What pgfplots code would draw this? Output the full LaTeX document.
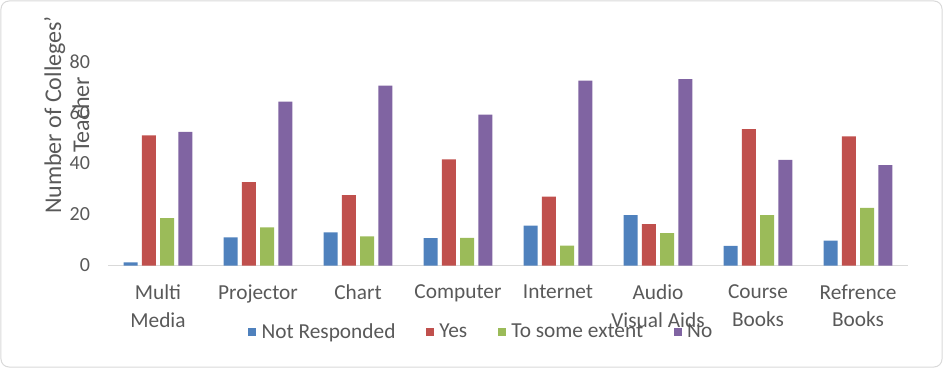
\documentclass[border=0pt]{standalone}
\usepackage{fontspec}
\setmainfont{Carlito}
\usepackage{pgfplots}
\pgfplotsset{compat=1.18}
\definecolor{nr}{HTML}{4F81BD}
\definecolor{yes}{HTML}{C0504D}
\definecolor{some}{HTML}{9BBB59}
\definecolor{no}{HTML}{8064A2}
\definecolor{txt}{HTML}{595959}
\definecolor{axl}{HTML}{D9D9D9}
\begin{document}
\begin{tikzpicture}[x=1pt,y=1pt]
\useasboundingbox (-81,-76.875) rectangle (627,199.125);
\draw[axl, line width=0.75pt, rounded corners=6pt] (-80.25,-76.125) rectangle (625.5,198.375);
\begin{axis}[
 at={(0,0)}, anchor=south west, scale only axis,
 width=600pt, height=153pt,
 xmin=-0.5, xmax=7.5, ymin=0, ymax=80,
 ybar=3.2pt, bar width=10.5pt,
 xtick={0,...,7},
 xticklabels={{Multi\\Media},Projector,Chart,Computer,Internet,{Audio\\Visual Aids},{Course\\Books},{Refrence\\Books}},
 xticklabel style={align=center, font=\fontsize{16}{20.5}\selectfont, text=txt, yshift=-11pt},
 ytick={0,20,40,60,80},
 yticklabel style={font=\fontsize{15}{17}\selectfont, text=txt, xshift=-10pt},
 /pgf/number format/assume math mode=true,
 major tick length=0pt,
 axis x line*=bottom, axis y line*=left,
 x axis line style={axl, line width=1.1pt, -},
 y axis line style={draw=none},
 ylabel={Number of Colleges'\\Teacher},
 ylabel style={at={(axis description cs:-0.0515,0.738)}, anchor=center, align=center, font=\fontsize{18}{21}\selectfont, text=txt},
 legend style={at={(axis description cs:0.467,-0.326)}, anchor=center, draw=none, fill=none, legend columns=-1, font=\fontsize{16}{18}\selectfont, text=txt, /tikz/every even column/.append style={column sep=21pt}, /tikz/every odd column/.append style={column sep=2pt}},
 legend image code/.code={\fill[#1, draw=none] (0pt,-3pt) rectangle (6pt,3pt);},
]
\addplot[fill=nr, draw=none] coordinates {(0,1.2) (1,11) (2,13) (3,10.7) (4,15.6) (5,19.8) (6,7.7) (7,9.8)};
\addplot[fill=yes, draw=none] coordinates {(0,51) (1,32.7) (2,27.6) (3,41.6) (4,27) (5,16.2) (6,53.5) (7,50.6)};
\addplot[fill=some, draw=none] coordinates {(0,18.6) (1,15) (2,11.4) (3,10.8) (4,7.8) (5,12.7) (6,19.8) (7,22.6)};
\addplot[fill=no, draw=none] coordinates {(0,52.4) (1,64.3) (2,70.5) (3,59.2) (4,72.5) (5,73.1) (6,41.4) (7,39.4)};
\legend{Not Responded, Yes, To some extent, No}
\end{axis}
\end{tikzpicture}
\end{document}
